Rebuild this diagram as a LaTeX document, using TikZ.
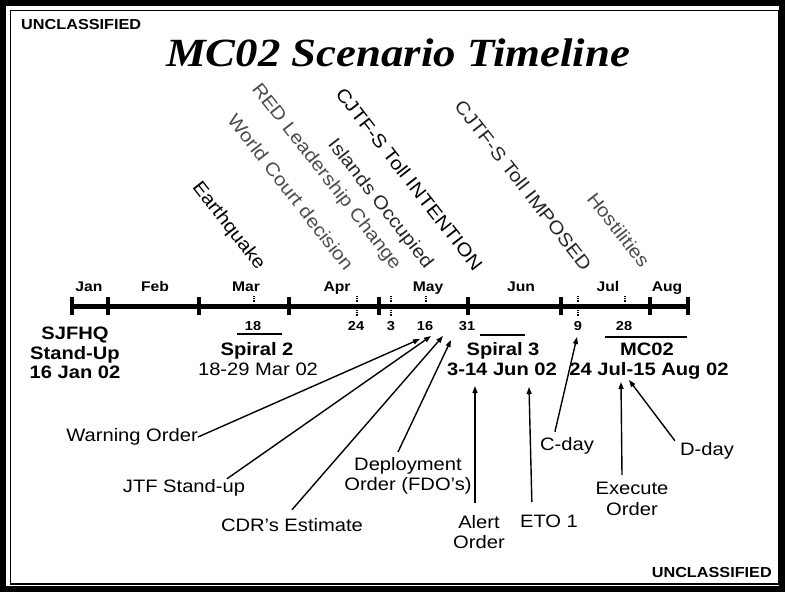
\documentclass[tikz,border=0pt]{standalone}
\usepackage{fontspec}
\setmainfont{Liberation Sans}[FakeStretch=1.12]
\newfontfamily\titlefont{Liberation Serif}[FakeStretch=1.12]
\usetikzlibrary{arrows.meta,positioning,calc}

\begin{document}
\begin{tikzpicture}[
    x=1pt, y=-1pt,
    every node/.style={font=\fontsize{18}{19.5}\selectfont, inner sep=0pt},
    monthlabel/.style={font=\fontsize{14}{15}\selectfont\bfseries},
    daylabel/.style={font=\fontsize{13}{14}\selectfont\bfseries},
    eventname/.style={font=\fontsize{18}{19.5}\selectfont\bfseries},
    eventlabel/.style={rotate=-52, anchor=east, font=\fontsize{18.5}{20}\selectfont},
    orderlabel/.style={align=center, font=\fontsize{18}{20.5}\selectfont},
    mainline/.style={line width=5pt},
    monthtick/.style={line width=4.5pt},
    minortick/.style={line width=1.2pt, densely dotted},
    spanbar/.style={line width=2.5pt},
    orderarrow/.style={line width=1.4pt, -{Triangle[length=7pt,width=5pt]}},
]

\useasboundingbox (0,0) rectangle (785,592);

% ===== Frame =====
\draw[line width=6pt] (3,3) rectangle (782,589);
\draw[line width=1.5pt] (10.5,10.5) rectangle (778.5,584);

\node[anchor=base west, font=\fontsize{14.5}{16}\selectfont\bfseries] (classtop) at (21,29) {UNCLASSIFIED};
\node[anchor=base east, font=\fontsize{14.5}{16}\selectfont\bfseries] (classbot) at (772,577) {UNCLASSIFIED};

% ===== Title =====
\node[anchor=base, font=\fontsize{40}{44}\selectfont\titlefont\bfseries\itshape] (title) at (398,66) {MC02 Scenario Timeline};

% ===== Timeline =====
\draw[mainline] (72,306) -- (688,306);
\foreach \x in {72,108,199,289,379,468,561,650,688}
    \draw[monthtick] (\x,297) -- (\x,315);
\foreach \x in {254,357,391,426,578,625}
    \draw[minortick] (\x,296) -- (\x,302);
\foreach \x in {357,391,578}
    \draw[minortick] (\x,310) -- (\x,316);

\foreach \x/\m in {89/Jan,155/Feb,246/Mar,337/Apr,428/May,521/Jun,608/Jul,667/Aug}
    \node[monthlabel, anchor=base] (m\m) at (\x,291) {\m};
\foreach \x/\d in {253/18,356/24,391/3,425/16,467/31,578/9,624/28}
    \node[daylabel, anchor=base] (d\d) at (\x,330) {\d};

% ===== Events above the line =====
\node[eventlabel] (quake) at (261,268) {Earthquake};
\node[eventlabel, text=black!70] (court) at (350,268) {World Court decision};
\node[eventlabel, text=black!70] (redlead) at (397,268) {RED Leadership Change};
\node[eventlabel, text=black!85] (islands) at (429,267) {Islands Occupied};
\node[eventlabel] (tollint) at (479,268) {CJTF-S Toll INTENTION};
\node[eventlabel, text=black!85] (tollimp) at (588,268) {CJTF-S Toll IMPOSED};
\node[eventlabel, text=black!70] (hostile) at (646,265) {Hostilities};

% ===== Periods below the line =====
\node[eventname, align=center, anchor=north] (sjfhq) at (75,327) {SJFHQ\\Stand-Up\\16 Jan 02};

\draw[spanbar] (237,334) -- (282,334);
\node[eventname, anchor=base] (spiral2) at (257,355) {Spiral 2};
\node[anchor=base] (spiral2date) at (258,375) {18-29 Mar 02};

\draw[spanbar] (480,335) -- (525,335);
\node[eventname, anchor=base] (spiral3) at (503,355) {Spiral 3};
\node[eventname, anchor=base] (spiral3date) at (502,375) {3-14 Jun 02};

\draw[spanbar] (605,337) -- (687,337);
\node[eventname, anchor=base] (mc02) at (647,355) {MC02};
\node[eventname, anchor=base] (mc02date) at (649,375) {24 Jul-15 Aug 02};

% ===== Orders =====
\node[orderlabel, anchor=east] (warn) at (198,437) {Warning Order};
\node[orderlabel, anchor=base] (jtf) at (184,492) {JTF Stand-up};
\node[orderlabel, anchor=base] (cdr) at (292,531) {CDR's Estimate};
\node[orderlabel, anchor=north] (deploy) at (408,457) {Deployment\\Order (FDO's)};
\node[orderlabel, anchor=north] (alert) at (479,515) {Alert\\Order};
\node[orderlabel, anchor=north] (eto) at (549,515) {ETO 1};
\node[orderlabel, anchor=base] (cday) at (567,450) {C-day};
\node[orderlabel, anchor=north] (execute) at (632,482) {Execute\\Order};
\node[orderlabel, anchor=base] (dday) at (707,455) {D-day};

% arrow tips
\coordinate (twarn) at (420,339);
\coordinate (tjtf) at (431,336);
\coordinate (tcdr) at (443,336);
\coordinate (tdeploy) at (451,340);
\coordinate (talert) at (475,386);
\coordinate (teto) at (529,387);
\coordinate (tcday) at (577,337);
\coordinate (texecute) at (621,382);
\coordinate (tdday) at (629,380);

\draw[orderarrow] (warn.east) -- (twarn);
\draw[orderarrow] ($(jtf.north)+(43,0)$) -- (tjtf);
\draw[orderarrow] ($(cdr.north)+(0,-8)$) -- (tcdr);
\draw[orderarrow] ($(deploy.north)+(-10,-5)$) -- (tdeploy);
\draw[orderarrow] ($(alert.north)+(-4,-12)$) -- (talert);
\draw[orderarrow] ($(eto.north west)+(12,-13)$) -- (teto);
\draw[orderarrow] ($(cday.north west)+(15,-5)$) -- (tcday);
\draw[orderarrow] ($(execute.north)+(-10,-7)$) -- (texecute);
\draw[orderarrow] ($(dday.north west)+(-5,-1)$) -- (tdday);

\end{tikzpicture}
\end{document}
